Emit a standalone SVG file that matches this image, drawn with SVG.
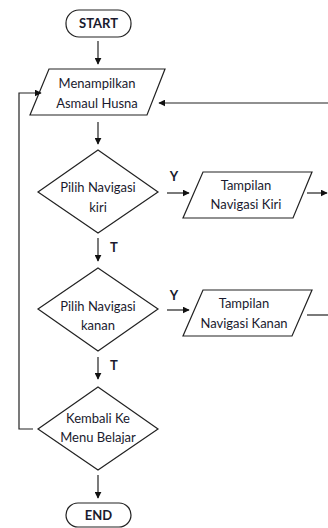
<svg xmlns="http://www.w3.org/2000/svg" width="328" height="528" viewBox="0 0 328 528">
<style>
.s{fill:#fff;stroke:#222;stroke-width:1.2}
.t{font-family:Lato,"Liberation Sans",sans-serif;font-size:13px;fill:#1a1a2e;text-anchor:middle}
.b{font-weight:bold}
.c{fill:none;stroke:#222;stroke-width:1.2}
</style>
<defs>
<marker id="a" viewBox="0 0 10 10" refX="9" refY="5" markerWidth="7" markerHeight="7" markerUnits="userSpaceOnUse" orient="auto">
<path d="M0,0 L10,5 L0,10 z" fill="#111"/>
</marker>
</defs>
<rect width="328" height="528" fill="#fff"/>
<g id="start"><rect class="s" x="66" y="10" width="65" height="27" rx="13"/><text class="t b" x="98.5" y="28">START</text></g>
<g id="menampilkan"><polygon class="s" points="49,69 165,69 147,115 30,115"/><text class="t" x="97" y="88">Menampilkan</text><text class="t" x="97" y="108">Asmaul Husna</text></g>
<g id="pilih-kiri"><polygon class="s" points="98,150 158,192 98,233 38,192"/><text class="t" x="98" y="192">Pilih Navigasi</text><text class="t" x="98" y="212">kiri</text></g>
<g id="tampil-kiri"><polygon class="s" points="203,172 312,172 293,218 183,218"/><text class="t" x="246" y="190">Tampilan</text><text class="t" x="246" y="209">Navigasi Kiri</text></g>
<g id="pilih-kanan"><polygon class="s" points="98,268 158,309 98,351 38,309"/><text class="t" x="98" y="311">Pilih Navigasi</text><text class="t" x="98" y="330">kanan</text></g>
<g id="tampil-kanan"><polygon class="s" points="203,290 312,290 292,336 183,336"/><text class="t" x="244" y="308">Tampilan</text><text class="t" x="244" y="328">Navigasi Kanan</text></g>
<g id="kembali"><polygon class="s" points="98,387 158,429 98,470 38,429"/><text class="t" x="98" y="423">Kembali Ke</text><text class="t" x="98" y="442">Menu Belajar</text></g>
<g id="end"><rect class="s" x="66" y="503" width="65" height="24" rx="12"/><text class="t b" x="98.5" y="520">END</text></g>
<g id="connectors">
<line class="c" x1="98" y1="41" x2="98" y2="64" marker-end="url(#a)"/>
<line class="c" x1="98" y1="122" x2="98" y2="144" marker-end="url(#a)"/>
<line class="c" x1="98" y1="238" x2="98" y2="261" marker-end="url(#a)"/>
<line class="c" x1="98" y1="357" x2="98" y2="379" marker-end="url(#a)"/>
<line class="c" x1="98" y1="475" x2="98" y2="498" marker-end="url(#a)"/>
<line class="c" x1="167" y1="193" x2="189" y2="193" marker-end="url(#a)"/>
<line class="c" x1="167" y1="310" x2="189" y2="310" marker-end="url(#a)"/>
<line class="c" x1="307" y1="193" x2="327" y2="193" marker-end="url(#a)"/>
<line class="c" x1="307" y1="315" x2="328" y2="315"/>
<line class="c" x1="328" y1="103" x2="159" y2="103" marker-end="url(#a)"/>
<polyline class="c" points="33,429 19,429 19,93 41,93" marker-end="url(#a)"/>
<text class="t b" x="174" y="181" font-size="11">Y</text>
<text class="t b" x="174" y="300" font-size="11">Y</text>
<text class="t b" x="114" y="252" font-size="11">T</text>
<text class="t b" x="114" y="370" font-size="11">T</text>
</g>
</svg>
